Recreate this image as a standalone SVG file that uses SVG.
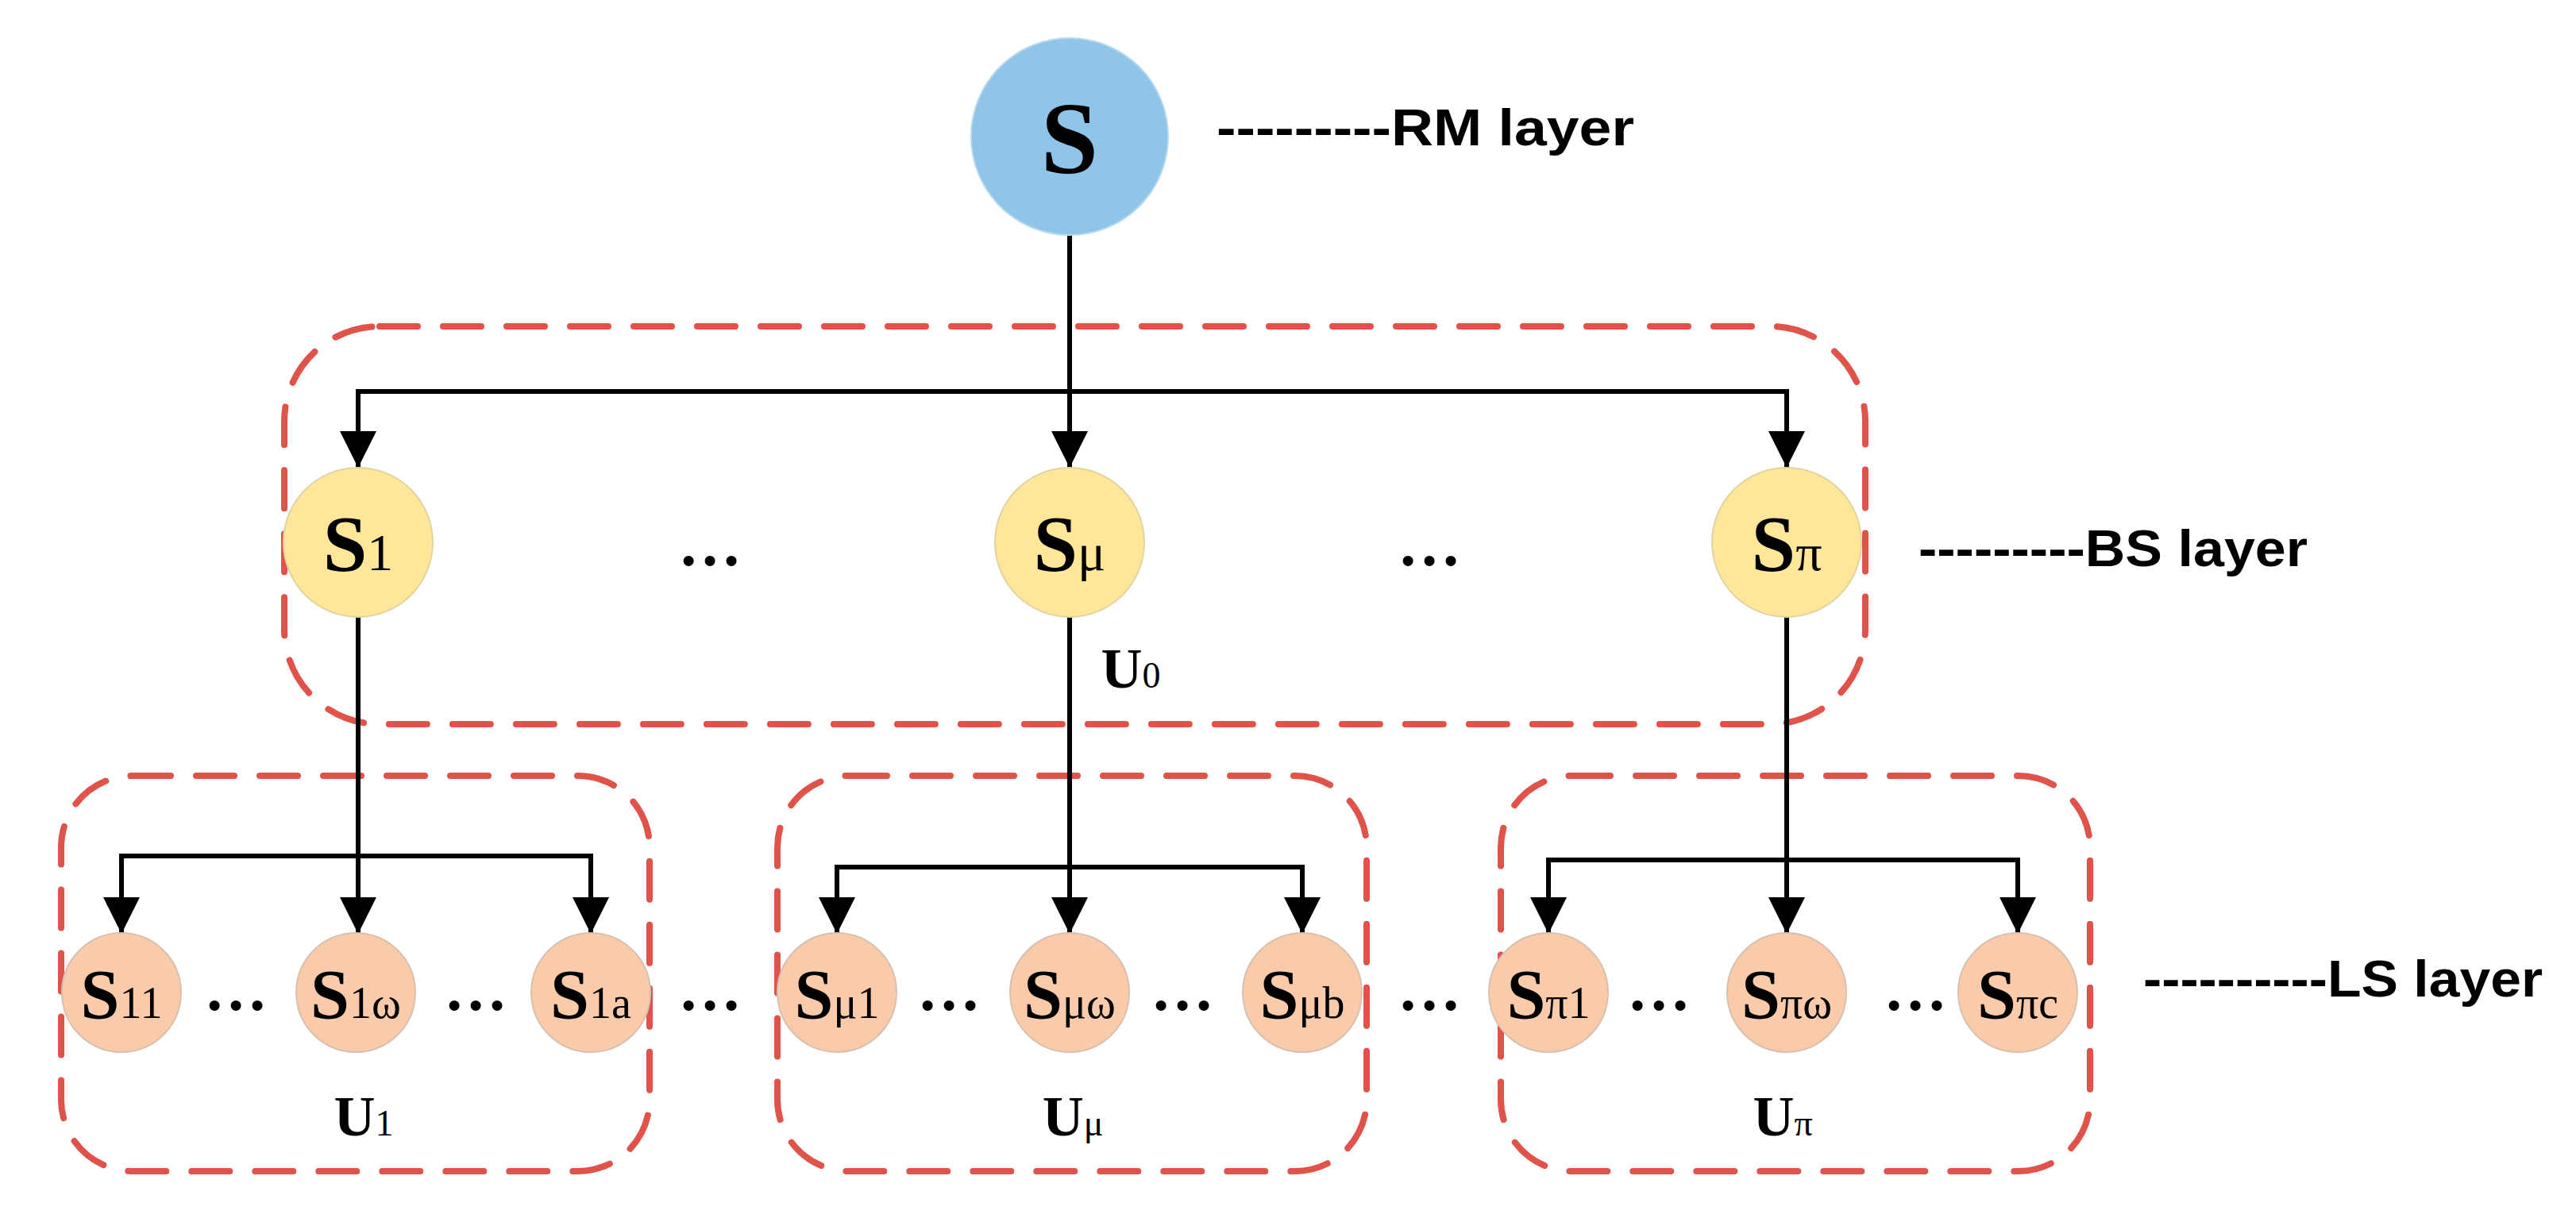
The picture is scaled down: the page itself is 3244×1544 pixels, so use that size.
<svg xmlns="http://www.w3.org/2000/svg" width="3244" height="1544" viewBox="0 0 3244 1544">
<style>
.grp{fill:none;stroke:#E0534A;stroke-width:8;stroke-dasharray:48 32;stroke-linecap:round}
.ln{fill:none;stroke:#000;stroke-width:6}
.rm{fill:#8FC5E8;stroke:#B8D8EE;stroke-width:2}
.bs{fill:#FFE699;stroke:#E0D4A0;stroke-width:2}
.ls{fill:#F9CBAB;stroke:#D8C0B0;stroke-width:2}
.lab{font-family:"Liberation Serif",serif;font-weight:bold;fill:#000;text-anchor:middle}
.sub{font-weight:normal}
.lay{font-family:"Liberation Sans",sans-serif;font-weight:bold;font-size:64px;fill:#000}
.dots{font-family:"Liberation Serif",serif;font-weight:bold;font-size:80px;fill:#000;text-anchor:middle}
</style>
<defs>
<marker id="ar" markerUnits="userSpaceOnUse" markerWidth="48" markerHeight="48" refX="46" refY="23" orient="auto" viewBox="0 0 48 46">
<path d="M0,0 L46,23 L0,46 Z" fill="#000"/>
</marker>
</defs>
<g id="groups">
<rect class="grp" x="358" y="411" width="1991" height="501" rx="120"/>
<rect class="grp" x="77" y="977" width="741" height="498" rx="90"/>
<rect class="grp" x="979" y="977" width="742" height="498" rx="90"/>
<rect class="grp" x="1890" y="977" width="742" height="498" rx="90"/>
</g>
<g id="connectors">
<path class="ln" d="M1347,296 V589" marker-end="url(#ar)"/>
<path class="ln" d="M451,493 H2250"/>
<path class="ln" d="M451,490 V589" marker-end="url(#ar)"/>
<path class="ln" d="M2250,490 V589" marker-end="url(#ar)"/>
<path class="ln" d="M451,777 V1176" marker-end="url(#ar)"/>
<path class="ln" d="M153,1078 H744"/>
<path class="ln" d="M153,1075 V1176" marker-end="url(#ar)"/>
<path class="ln" d="M744,1075 V1176" marker-end="url(#ar)"/>
<path class="ln" d="M1347,777 V1176" marker-end="url(#ar)"/>
<path class="ln" d="M1054,1092 H1640"/>
<path class="ln" d="M1054,1089 V1176" marker-end="url(#ar)"/>
<path class="ln" d="M1640,1089 V1176" marker-end="url(#ar)"/>
<path class="ln" d="M2250,777 V1176" marker-end="url(#ar)"/>
<path class="ln" d="M1950,1083 H2541"/>
<path class="ln" d="M1950,1080 V1176" marker-end="url(#ar)"/>
<path class="ln" d="M2541,1080 V1176" marker-end="url(#ar)"/>
</g>
<g id="S"><circle class="rm" cx="1347" cy="172" r="124"/><text class="lab" x="1347" y="218" font-size="130">S</text></g>
<g id="S1"><circle class="bs" cx="451" cy="683" r="94"/><text class="lab" x="451" y="718" font-size="100">S<tspan class="sub" font-size="66">1</tspan></text></g>
<g id="Smu"><circle class="bs" cx="1347" cy="683" r="94"/><text class="lab" x="1347" y="718" font-size="100">S<tspan class="sub" font-size="66">μ</tspan></text></g>
<g id="Spi"><circle class="bs" cx="2250" cy="683" r="94"/><text class="lab" x="2250" y="718" font-size="100">S<tspan class="sub" font-size="66">π</tspan></text></g>
<g id="S11"><circle class="ls" cx="153" cy="1250" r="75"/><text class="lab" x="153" y="1282" font-size="88">S<tspan class="sub" font-size="56">11</tspan></text></g>
<g id="S1w"><circle class="ls" cx="448" cy="1250" r="75"/><text class="lab" x="448" y="1282" font-size="88">S<tspan class="sub" font-size="56">1ω</tspan></text></g>
<g id="S1a"><circle class="ls" cx="744" cy="1250" r="75"/><text class="lab" x="744" y="1282" font-size="88">S<tspan class="sub" font-size="56">1a</tspan></text></g>
<g id="Smu1"><circle class="ls" cx="1054" cy="1250" r="75"/><text class="lab" x="1054" y="1282" font-size="88">S<tspan class="sub" font-size="56">μ1</tspan></text></g>
<g id="Smuw"><circle class="ls" cx="1347" cy="1250" r="75"/><text class="lab" x="1347" y="1282" font-size="88">S<tspan class="sub" font-size="56">μω</tspan></text></g>
<g id="Smub"><circle class="ls" cx="1640" cy="1250" r="75"/><text class="lab" x="1640" y="1282" font-size="88">S<tspan class="sub" font-size="56">μb</tspan></text></g>
<g id="Spi1"><circle class="ls" cx="1950" cy="1250" r="75"/><text class="lab" x="1950" y="1282" font-size="88">S<tspan class="sub" font-size="56">π1</tspan></text></g>
<g id="Spiw"><circle class="ls" cx="2250" cy="1250" r="75"/><text class="lab" x="2250" y="1282" font-size="88">S<tspan class="sub" font-size="56">πω</tspan></text></g>
<g id="Spic"><circle class="ls" cx="2541" cy="1250" r="75"/><text class="lab" x="2541" y="1282" font-size="88">S<tspan class="sub" font-size="56">πc</tspan></text></g>
<g id="labels">
<text class="lab" x="1424" y="866" font-size="72">U<tspan class="sub" font-size="46">0</tspan></text>
<text class="lab" x="458" y="1430" font-size="72">U<tspan class="sub" font-size="46">1</tspan></text>
<text class="lab" x="1351" y="1430" font-size="72">U<tspan class="sub" font-size="46">μ</tspan></text>
<text class="lab" x="2245" y="1430" font-size="72">U<tspan class="sub" font-size="46">π</tspan></text>
<text class="dots" x="894" y="712">…</text>
<text class="dots" x="1800" y="712">…</text>
<text class="dots" x="297" y="1272">…</text>
<text class="dots" x="599" y="1272">…</text>
<text class="dots" x="894" y="1272">…</text>
<text class="dots" x="1195" y="1272">…</text>
<text class="dots" x="1489" y="1272">…</text>
<text class="dots" x="1800" y="1272">…</text>
<text class="dots" x="2089" y="1272">…</text>
<text class="dots" x="2412" y="1272">…</text>
<text class="lay" x="1532" y="183" textLength="526" lengthAdjust="spacingAndGlyphs">---------RM layer</text>
<text class="lay" x="2416" y="713" textLength="490" lengthAdjust="spacingAndGlyphs">---------BS layer</text>
<text class="lay" x="2699" y="1255" textLength="503" lengthAdjust="spacingAndGlyphs">----------LS layer</text>
</g>
</svg>
